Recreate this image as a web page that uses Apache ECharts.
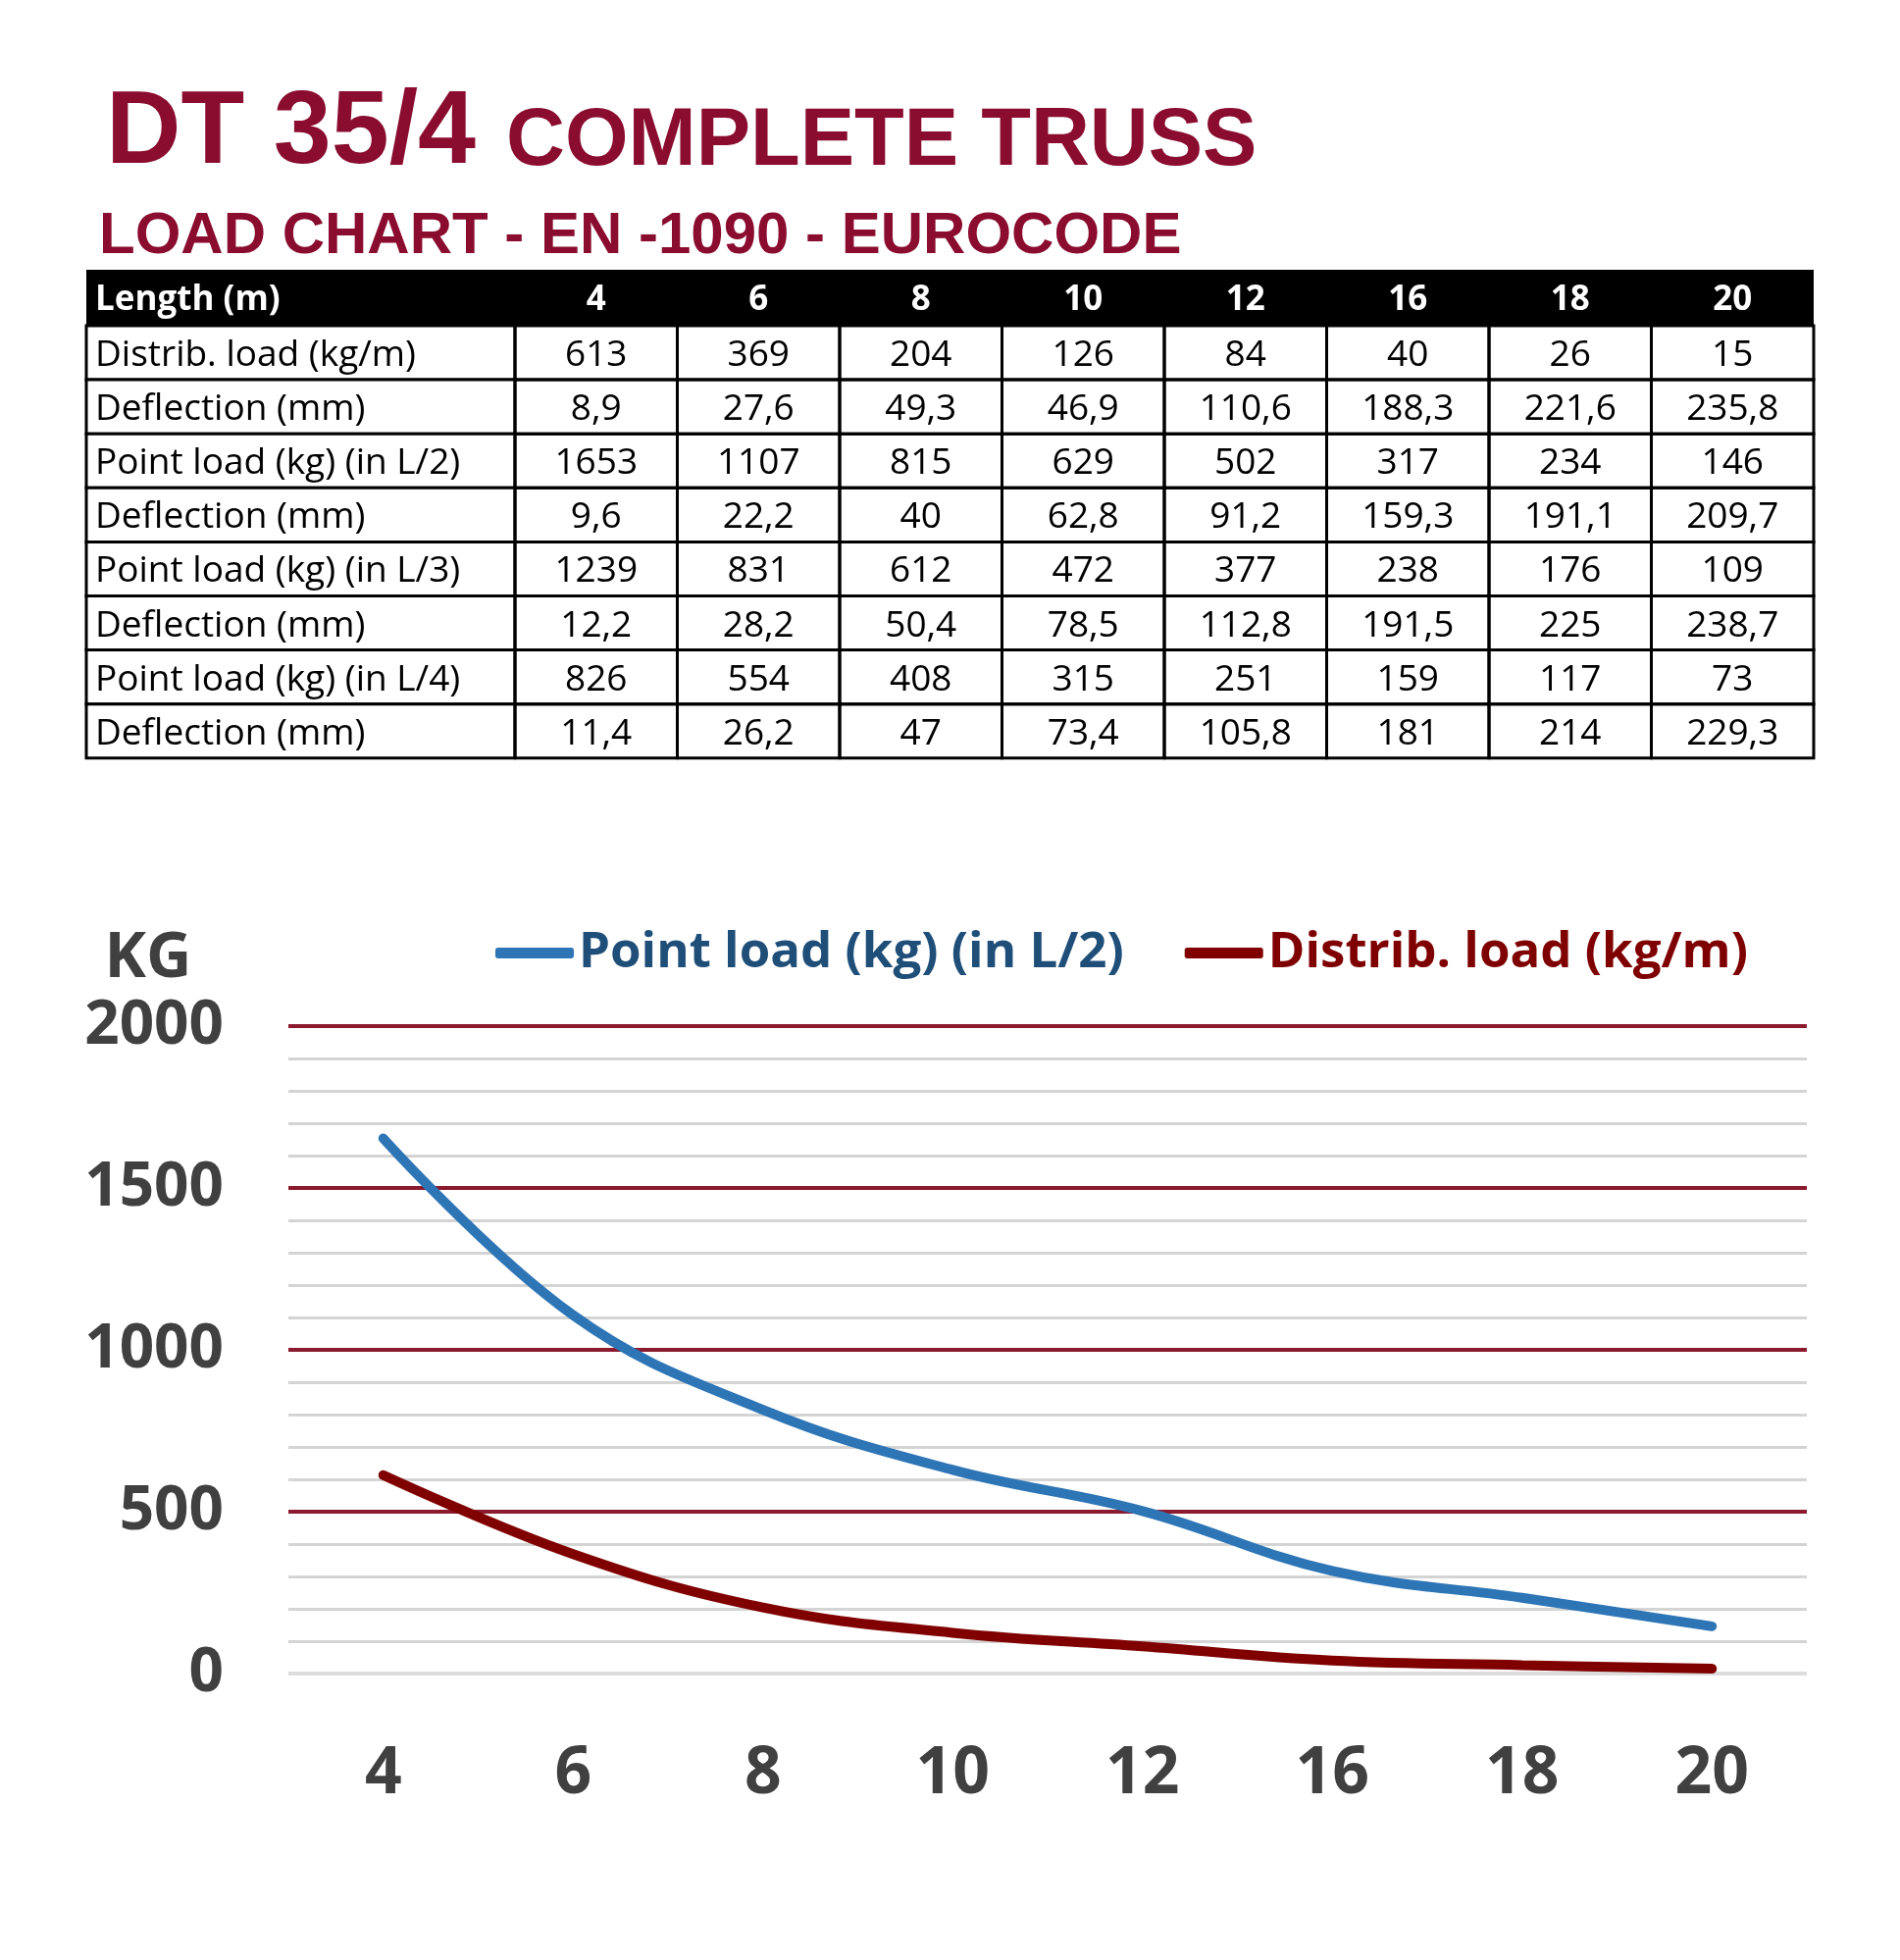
<!DOCTYPE html>
<html>
<head>
<meta charset="utf-8">
<title>DT 35/4 Complete Truss - Load chart</title>
<script src="https://cdn.jsdelivr.net/npm/echarts@6/dist/echarts.min.js"></script>
<style>
  html, body { margin: 0; padding: 0; background: #fff; }
  #main { width: 1937px; height: 1998px; }
</style>
</head>
<body>
<div id="main"></div>
<script>
// data
var lengths = ['4', '6', '8', '10', '12', '16', '18', '20'];
var distribLoad = [613, 369, 204, 126, 84, 40, 26, 15];
var distribDefl = [8.9, 27.6, 49.3, 46.9, 110.6, 188.3, 221.6, 235.8];
var pointL2 = [1653, 1107, 815, 629, 502, 317, 234, 146];
var pointL2Defl = [9.6, 22.2, 40, 62.8, 91.2, 159.3, 191.1, 209.7];
var pointL3 = [1239, 831, 612, 472, 377, 238, 176, 109];
var pointL3Defl = [12.2, 28.2, 50.4, 78.5, 112.8, 191.5, 225, 238.7];
var pointL4 = [826, 554, 408, 315, 251, 159, 117, 73];
var pointL4Defl = [11.4, 26.2, 47, 73.4, 105.8, 181, 214, 229.3];
var yTicks = [0, 500, 1000, 1500, 2000];

var tableRows = [
  ['Distrib. load (kg/m)', distribLoad],
  ['Deflection (mm)', distribDefl],
  ['Point load (kg) (in L/2)', pointL2],
  ['Deflection (mm)', pointL2Defl],
  ['Point load (kg) (in L/3)', pointL3],
  ['Deflection (mm)', pointL3Defl],
  ['Point load (kg) (in L/4)', pointL4],
  ['Deflection (mm)', pointL4Defl]
];

var RED = '#8a0c2e';
var GREY_TXT = '#404040';

function fmt(v) {
  return String(v).replace('.', ',');
}

// title + table, drawn as graphic elements
function buildGraphic() {
  var g = [];
  g.push({ type: 'text', x: 108, y: 137, style: { text: 'DT 35/4', font: 'bold 106px "Liberation Sans", Arial', fill: RED, verticalAlign: 'middle' } });
  g.push({ type: 'text', x: 516, y: 145, style: { text: 'COMPLETE TRUSS', font: 'bold 83px "Liberation Sans", Arial', fill: RED, verticalAlign: 'middle' } });
  g.push({ type: 'text', x: 101, y: 241, style: { text: 'LOAD CHART - EN -1090 - EUROCODE', font: 'bold 60px "Liberation Sans", Arial', fill: RED, verticalAlign: 'middle' } });

  var left = 88, right = 1849, top = 275, headH = 57, rowH = 55.1;
  var firstW = 437;
  var colW = (right - left - firstW) / lengths.length;
  var dy = 3;

  // header
  g.push({ type: 'rect', shape: { x: left, y: top, width: right - left, height: headH }, style: { fill: '#000' } });
  g.push({ type: 'text', x: left + 9, y: top + headH / 2 + dy, style: { text: 'Length (m)', font: 'bold 35px "Open Sans"', fill: '#fff', verticalAlign: 'middle' } });
  lengths.forEach(function (l, i) {
    g.push({ type: 'text', x: left + firstW + colW * (i + 0.5), y: top + headH / 2 + dy, style: { text: l, font: 'bold 35px "Open Sans"', fill: '#fff', align: 'center', verticalAlign: 'middle' } });
  });

  // body
  tableRows.forEach(function (row, r) {
    var y = top + headH + rowH * r;
    g.push({ type: 'rect', shape: { x: left, y: y, width: firstW, height: rowH }, style: { fill: '#fff', stroke: '#000', lineWidth: 3 } });
    g.push({ type: 'text', x: left + 9, y: y + rowH / 2 + dy, style: { text: row[0], font: '37px "Open Sans"', fill: '#000', verticalAlign: 'middle' } });
    row[1].forEach(function (v, i) {
      var x = left + firstW + colW * i;
      g.push({ type: 'rect', shape: { x: x, y: y, width: colW, height: rowH }, style: { fill: 'none', stroke: '#000', lineWidth: 3 } });
      g.push({ type: 'text', x: x + colW / 2, y: y + rowH / 2 + dy, style: { text: fmt(v), font: '37px "Open Sans"', fill: '#000', align: 'center', verticalAlign: 'middle' } });
    });
  });

  // axis unit
  g.push({ type: 'text', x: 151, y: 978, style: { text: 'KG', font: 'bold 64px "Open Sans"', fill: GREY_TXT, align: 'center', verticalAlign: 'middle' } });
  return g;
}

var chart = echarts.init(document.getElementById('main'));

var option = {
  backgroundColor: '#fff',
  animation: false,
  graphic: buildGraphic(),
  legend: {
    left: 500,
    top: 941,
    itemWidth: 80,
    itemHeight: 11,
    itemGap: 62,
    icon: 'roundRect',
    textStyle: { fontFamily: 'Open Sans', fontWeight: 'bold', fontSize: 51 },
    data: [
      { name: 'Point load (kg) (in L/2)', textStyle: { color: '#1f4e79' } },
      { name: 'Distrib. load (kg/m)', textStyle: { color: '#7f0000' } }
    ]
  },
  grid: {
    left: 294,
    right: 95,
    top: 1046,
    bottom: 292
  },
  xAxis: {
    type: 'category',
    data: lengths,
    boundaryGap: true,
    axisLine: { show: false },
    axisTick: { show: false },
    axisLabel: {
      margin: 70,
      fontFamily: 'Open Sans',
      fontWeight: 'bold',
      fontSize: 66,
      color: GREY_TXT
    },
    splitLine: { show: false }
  },
  yAxis: {
    type: 'value',
    min: yTicks[0],
    max: yTicks[yTicks.length - 1],
    interval: yTicks[1] - yTicks[0],
    axisLine: { show: false },
    axisTick: { show: false },
    axisLabel: {
      margin: 66,
      fontFamily: 'Open Sans',
      fontWeight: 'bold',
      fontSize: 62,
      color: GREY_TXT,
      formatter: function (v) { return String(v); }
    },
    splitLine: {
      show: true,
      lineStyle: { color: ['#dcdcdc', '#8b1a2e', '#8b1a2e', '#8b1a2e', '#8b1a2e'], width: 4 }
    },
    minorTick: { show: false, splitNumber: 5 },
    minorSplitLine: {
      show: true,
      lineStyle: { color: '#d4d4d4', width: 3 }
    }
  },
  series: [
    {
      name: 'Point load (kg) (in L/2)',
      type: 'line',
      data: pointL2,
      smooth: 0.4,
      showSymbol: false,
      color: '#2e75b6',
      lineStyle: { width: 10, cap: 'round', color: '#2e75b6' },
      z: 3
    },
    {
      name: 'Distrib. load (kg/m)',
      type: 'line',
      data: distribLoad,
      smooth: 0.4,
      showSymbol: false,
      color: '#800000',
      lineStyle: { width: 10, cap: 'round', color: '#800000' },
      z: 3
    }
  ]
};

chart.setOption(option);
</script>
</body>
</html>
